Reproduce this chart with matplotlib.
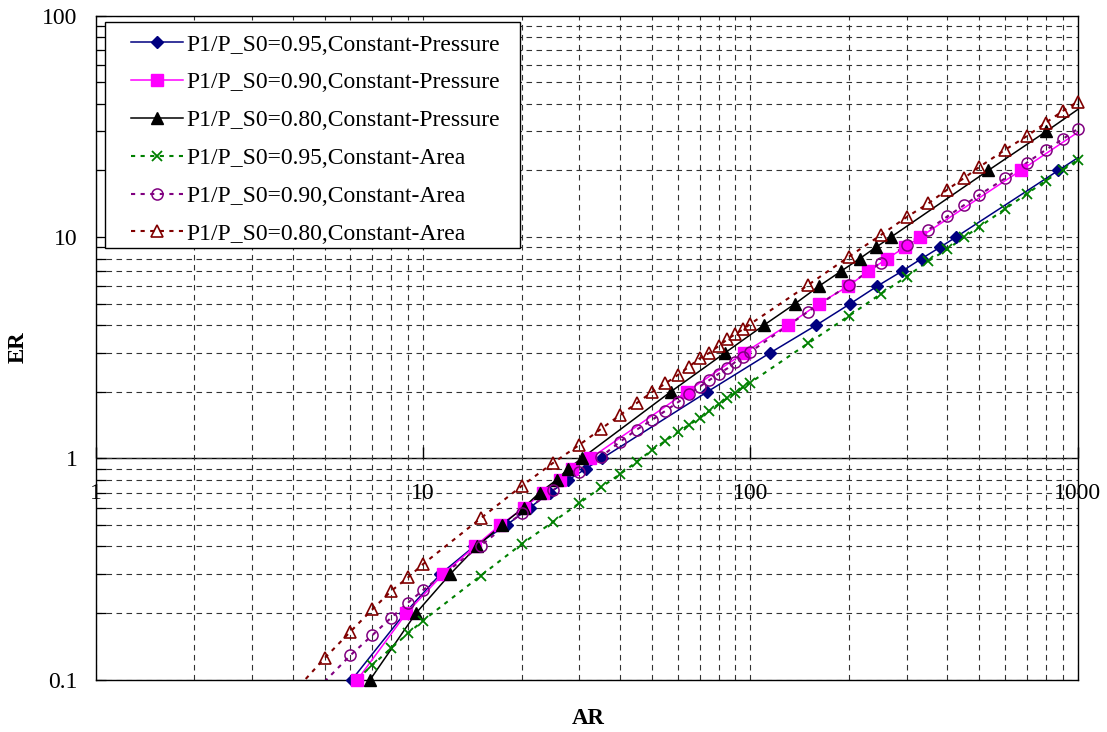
import numpy as np
import matplotlib
matplotlib.use("Agg")
import matplotlib.pyplot as plt
from matplotlib.lines import Line2D
from matplotlib.patches import Rectangle

plt.rcParams['font.family'] = ['Liberation Serif', 'DejaVu Serif']

er_cp = [0.1, 0.2, 0.3, 0.4, 0.5, 0.6, 0.7, 0.8, 0.9, 1, 2, 3, 4, 5, 6, 7, 8, 9, 10, 20, 30, 40]
ar_cp95 = [6.06, 8.8, 11.3, 14.3, 18.0, 21.2, 24.4, 27.8, 31.5, 35.2, 73.9, 115, 159, 202,
           244, 290, 334, 380, 425, 873, 1330]
ar_cp90 = [6.30, 8.9, 11.5, 14.4, 17.2, 20.4, 23.2, 26.2, 28.6, 32.4, 63.9, 95.7, 130, 162,
           199, 229, 262, 297, 330, 670, 1010]
ar_cp80 = [6.89, 9.52, 12.1, 14.6, 17.4, 20.3, 22.7, 25.6, 27.8, 30.5, 57.1, 83.7, 110, 137,
           162, 189, 216, 242, 269, 533, 801, 1060]

# constant-area series: sampled at fixed AR
ar_ca = [4, 5, 6, 7, 8, 9, 10, 15, 20, 25, 30, 35, 40, 45, 50, 55, 60, 65, 70, 75, 80, 85, 90,
         95, 100, 150, 200, 250, 300, 350, 400, 450, 500, 600, 700, 800, 900, 1000]
er_ca95 = [0.094, 0.1165, 0.139, 0.162, 0.185, 0.295, 0.41, 0.518, 0.627, 0.74, 0.85, 0.966,
           1.09, 1.20, 1.31, 1.42, 1.52, 1.64, 1.76, 1.87, 1.98, 2.10, 2.20, 3.31, 4.40, 5.53,
           6.62, 7.80, 8.81, 10.0, 11.1, 13.4, 15.7, 18.0, 20.1, 22.3]
er_ca90 = [0.098, 0.129, 0.159, 0.191, 0.223, 0.254, 0.404, 0.565, 0.72, 0.871, 1.018, 1.19,
           1.35, 1.49, 1.64, 1.79, 1.95, 2.11, 2.26, 2.41, 2.55, 2.73, 2.88, 3.03, 4.60, 6.07,
           7.66, 9.21, 10.8, 12.4, 13.95, 15.5, 18.4, 21.7, 24.8, 27.7, 30.8]
er_ca80 = [0.087, 0.125, 0.165, 0.208, 0.252, 0.290, 0.333, 0.536, 0.75, 0.956, 1.15, 1.36,
           1.57, 1.78, 1.99, 2.18, 2.38, 2.60, 2.83, 3.00, 3.22, 3.45, 3.65, 3.83, 4.05, 6.07,
           8.15, 10.2, 12.3, 14.2, 16.4, 18.5, 20.7, 24.8, 28.6, 32.9, 37.1, 40.9]

labels = ["P1/P_S0=0.95,Constant-Pressure", "P1/P_S0=0.90,Constant-Pressure",
          "P1/P_S0=0.80,Constant-Pressure", "P1/P_S0=0.95,Constant-Area",
          "P1/P_S0=0.90,Constant-Area", "P1/P_S0=0.80,Constant-Area"]
x_ticks = [1, 10, 100, 1000]
y_ticks = [0.1, 1, 10, 100]

dot = (0, (2.0, 2.6))
series = [
    (ar_cp95, er_cp[:len(ar_cp95)], dict(color="#000080", ls="-", marker="D", ms=6.5, mfc="#000080", mew=1.0)),
    (ar_cp90, er_cp[:len(ar_cp90)], dict(color="#FF00FF", ls="-", marker="s", ms=8, mfc="#FF00FF", mew=1.0)),
    (ar_cp80, er_cp[:len(ar_cp80)], dict(color="black", ls="-", marker="^", ms=8.5, mfc="black", mew=1.0)),
    (ar_ca[2:], er_ca95, dict(color="#008000", ls=dot, marker="x", ms=7.5, mfc="none", mew=1.3)),
    (ar_ca[1:], er_ca90, dict(color="#800080", ls=dot, marker="o", ms=8, mfc="none", mew=1.1)),
    (ar_ca, er_ca80, dict(color="#800000", ls=dot, marker="^", ms=8.5, mfc="none", mew=1.2)),
]

fig = plt.figure(figsize=(11.07, 7.32), dpi=100)
ax = fig.add_axes([0.0865, 0.0714, 0.887, 0.9071])
ax.set_xscale("log")
ax.set_yscale("log")
ax.set_xlim(1, 1000)
ax.set_ylim(0.1, 100)

# dashed major + minor grid like the spreadsheet original
ax.grid(True, which="both", color="#333333", lw=0.8, ls=(0, (5, 4)))
ax.axhline(1, color="black", lw=1.0, zorder=1.5)

handles = []
for xs, ys, st in series:
    xs = np.array(xs, dtype=float)
    ys = np.array(ys, dtype=float)
    lw = 1.1 if st["ls"] == "-" else 1.5
    ax.plot(xs, ys, color=st["color"], ls=st["ls"], lw=lw, zorder=2)
    inside = (xs >= 0.999) & (xs <= 1000.1) & (ys >= 0.0999) & (ys <= 100.1)
    ax.plot(xs[inside], ys[inside], ls="none", marker=st["marker"], ms=st["ms"],
            mfc=st["mfc"], mec=st["color"], mew=st["mew"], zorder=3, clip_on=False)
    handles.append(Line2D([], [], color=st["color"], ls=st["ls"], lw=lw, marker=st["marker"],
                          ms=st["ms"], mfc=st["mfc"], mec=st["color"], mew=st["mew"]))

# y axis: labels on the left, short ticks inside
ax.set_yticks(y_ticks)
ax.set_yticklabels(["0.1", "1", "10", "100"])
ax.tick_params(axis="y", which="both", direction="in", length=7, width=0.9, color="black",
               labelsize=17, pad=13)
ax.tick_params(axis="y", which="minor", labelleft=False)

# x axis crosses at ER = 1, labels sit just under that line
ax.tick_params(axis="x", which="both", length=0, labelbottom=False)
for xv in x_ticks:
    ax.plot([xv], [1], marker=2, ms=8, color="black", mew=1.0, clip_on=False, zorder=2)
    ax.annotate(str(xv), (xv, 1), xytext=(0, -25.5), textcoords="offset points",
                ha="center", va="center", fontsize=17, annotation_clip=False)

for s in ax.spines.values():
    s.set_color("black")
    s.set_linewidth(1.0)

# legend box
ax.add_patch(Rectangle((0.0095, 0.650), 0.4225, 0.340, transform=ax.transAxes,
                       facecolor="white", edgecolor="black", lw=1.0, zorder=4))
ax.legend(handles, labels, loc="upper left", bbox_to_anchor=(0.036, 0.9725), frameon=False,
          fontsize=17, handlelength=2.2, handletextpad=0.12, labelspacing=0.69,
          borderpad=0, borderaxespad=0).set_zorder(5)

fig.text(18 / 1107, 1 - 347 / 732, "ER", rotation=90, ha="center", va="center",
         fontsize=16.5, fontweight="bold")
fig.text(588 / 1107, 1 - 718 / 732, "AR", ha="center", va="center",
         fontsize=16.5, fontweight="bold")

fig.savefig("out.png", dpi=100)
